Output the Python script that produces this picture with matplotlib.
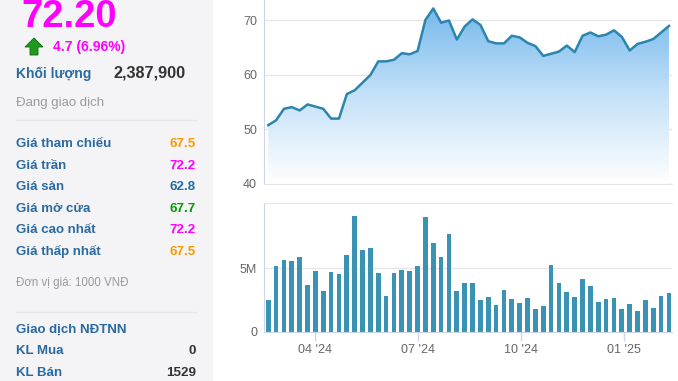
import numpy as np
import pandas as pd
import matplotlib.pyplot as plt
import matplotlib.dates as mdates
from matplotlib.patches import Rectangle, Polygon
from matplotlib.colors import LinearSegmentedColormap

plt.rcParams['font.family'] = ['Liberation Sans', 'DejaVu Sans']

# weekly data, Feb 2024 - Feb 2025
weeks = pd.date_range('2024-02-19', periods=52, freq='7D')
price = [50.8, 51.7, 53.8, 54.1, 53.5, 54.6, 54.2, 53.8, 52.0, 52.0,
         56.5, 57.2, 58.6, 60.0, 62.5, 62.5, 62.8, 64.0, 63.8, 64.4,
         70.1, 72.2, 69.6, 70.0, 66.5, 68.9, 70.2, 69.2, 66.2, 65.8,
         65.8, 67.2, 66.9, 65.9, 65.3, 63.5, 63.9, 64.3, 65.4, 64.2,
         67.2, 67.8, 67.1, 67.4, 68.2, 67.0, 64.5, 65.7, 66.1, 66.6,
         67.8, 69.0]
volume = [2.50, 5.16, 5.65, 5.55, 5.89, 3.70, 4.74, 3.23, 4.66, 4.50,
          6.04, 9.04, 6.38, 6.54, 4.58, 2.84, 4.58, 4.84, 4.74, 5.16,
          8.96, 6.93, 5.89, 7.66, 3.23, 3.85, 3.85, 2.50, 2.73, 2.11,
          3.31, 2.58, 2.27, 2.66, 1.77, 2.00, 5.23, 3.85, 3.15, 2.73,
          4.11, 3.62, 2.34, 2.58, 2.66, 1.77, 2.19, 1.61, 2.50, 1.85,
          2.84, 3.07]  # millions

info_labels = ['Giá tham chiếu', 'Giá trần', 'Giá sàn', 'Giá mở cửa', 'Giá cao nhất', 'Giá thấp nhất']
info_values = ['67.5', '72.2', '62.8', '67.7', '72.2', '67.5']
info_colors = ['#ff9900', '#ff00ff', '#1f6f9f', '#009900', '#ff00ff', '#ff9900']

W, H = 678, 381
fig = plt.figure(figsize=(W / 100, H / 100), dpi=100)


def fx(x):
    return x / W


def fy(y):
    return 1 - y / H


def ax_rect(left, top, right, bottom):
    return [fx(left), fy(bottom), (right - left) / W, (bottom - top) / H]


# left info panel
fig.patches.append(Rectangle((0, 0), fx(212), 1, transform=fig.transFigure,
                             color='#f4f3f5', zorder=0))
blue = '#2a6aa0'
fig.text(fx(21), fy(27), '72.20', fontsize=27.5, fontweight='bold', color='#ff00ff', va='baseline')
arrow = [(25, 47), (34, 38), (43, 47), (38, 47), (38, 55), (30, 55), (30, 47)]
fig.patches.append(Polygon([(fx(a), fy(b)) for a, b in arrow], closed=True,
                           transform=fig.transFigure, facecolor='#1e9a1e', edgecolor='#0d6b0d', lw=0.6))
fig.text(fx(53), fy(51.5), '4.7 (6.96%)', fontsize=10, fontweight='bold', color='#ff00ff', va='baseline')
fig.text(fx(16), fy(78.3), 'Khối lượng', fontsize=10, fontweight='bold', color=blue, va='baseline')
fig.text(fx(113), fy(77.3), '2,387,900', fontsize=11.7, fontweight='bold', color='#333333', va='baseline')
fig.text(fx(16), fy(106), 'Đang giao dịch', fontsize=9.5, color='#9a9a9a', va='baseline')

fig.lines.append(plt.Line2D([fx(16), fx(196)], [fy(120), fy(120)], transform=fig.transFigure,
                            color='#e6e5e8', lw=1))
for i, (lab, val, col) in enumerate(zip(info_labels, info_values, info_colors)):
    yb = 147 + i * 21.6
    fig.text(fx(16), fy(yb), lab, fontsize=9.5, fontweight='bold', color=blue, va='baseline')
    fig.text(fx(196), fy(yb), val, fontsize=9.6, fontweight='bold', color=col, va='baseline', ha='right')

fig.text(fx(16), fy(285.7), 'Đơn vị giá: 1000 VNĐ', fontsize=8.3, color='#9a9a9a', va='baseline')
fig.lines.append(plt.Line2D([fx(16), fx(196)], [fy(312), fy(312)], transform=fig.transFigure,
                            color='#e6e5e8', lw=1))
fig.text(fx(16), fy(332.7), 'Giao dịch NĐTNN', fontsize=9.5, fontweight='bold', color=blue, va='baseline')
fig.text(fx(16), fy(354.3), 'KL Mua', fontsize=9.5, fontweight='bold', color=blue, va='baseline')
fig.text(fx(196), fy(354.3), '0', fontsize=9.6, fontweight='bold', color='#333333', va='baseline', ha='right')
fig.text(fx(16), fy(375.7), 'KL Bán', fontsize=9.5, fontweight='bold', color=blue, va='baseline')
fig.text(fx(196), fy(375.7), '1529', fontsize=9.6, fontweight='bold', color='#333333', va='baseline', ha='right')

# charts
x = mdates.date2num(weeks)
xlim = (x[0] - 3.8, x[-1] + 2.7)
tick_col = '#666666'
axis_col = '#ccd6eb'

ax1 = fig.add_axes(ax_rect(264, 0, 672, 184))
ymin, ymax = 40, 73.76
ax1.set_xlim(xlim)
ax1.set_ylim(ymin, ymax)
fill = ax1.fill_between(x, price, ymin, color='none', lw=0)
cmap = LinearSegmentedColormap.from_list('g', ['#ffffff', '#c4e1f8', '#74b8ec'])
grad = np.linspace(0, 1, 256).reshape(-1, 1)
im = ax1.imshow(grad, extent=[xlim[0], xlim[1], ymin, 72.5], origin='lower',
                aspect='auto', cmap=cmap, zorder=1)
im.set_clip_path(fill.get_paths()[0], transform=ax1.transData)
ax1.plot(x, price, color='#2b85ac', lw=1.8, zorder=3)
ax1.set_yticks([40, 50, 60, 70])
ax1.grid(axis='y', color='#e6e6e6', lw=1)
ax1.set_axisbelow(True)
ax1.set_xticks([])
ax1.tick_params(axis='y', length=0, pad=5, labelsize=9, labelcolor=tick_col)
for s in ['top', 'right']:
    ax1.spines[s].set_visible(False)
ax1.spines['left'].set_color(axis_col)
ax1.spines['bottom'].set_color('#e6e6e6')

ax2 = fig.add_axes(ax_rect(264, 203, 672, 332))
ax2.bar(x, volume, width=4.2, color='#3a93b4', zorder=2)
ax2.set_xlim(xlim)
ax2.set_ylim(0, 10.08)
ax2.set_yticks([0, 5])
ax2.set_yticklabels(['0', '5M'])
ax2.grid(axis='y', color='#e6e6e6', lw=1)
ax2.set_axisbelow(True)
ax2.tick_params(axis='y', length=0, pad=5, labelsize=9, labelcolor=tick_col)
ax2.xaxis.set_major_locator(mdates.MonthLocator(bymonth=[1, 4, 7, 10]))
ax2.xaxis.set_major_formatter(mdates.DateFormatter("%m '%y"))
ax2.tick_params(axis='x', length=6.5, width=1, color=axis_col, pad=2, labelsize=9, labelcolor=tick_col)
ax2.spines['right'].set_visible(False)
ax2.spines['top'].set_color('#e6e6e6')
ax2.spines['left'].set_color(axis_col)
ax2.spines['bottom'].set_color(axis_col)

fig.savefig('out.png', dpi=100)
